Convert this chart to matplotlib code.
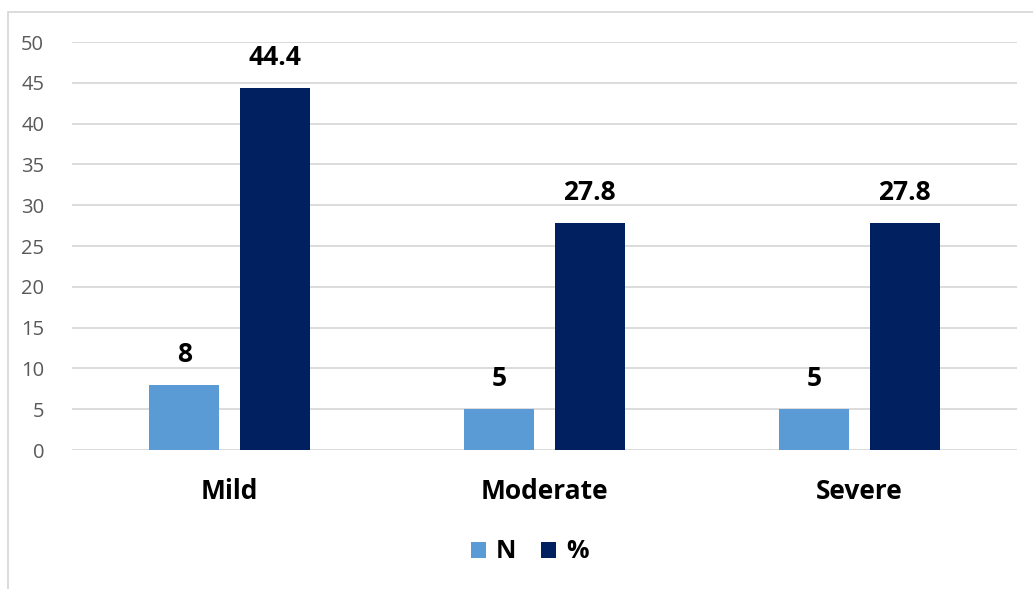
import matplotlib.pyplot as plt
import numpy as np
from matplotlib.patches import Rectangle

# severity groups with counts and percentages
categories = ["Mild", "Moderate", "Severe"]
n_values = [8, 5, 5]
pct_values = [44.4, 27.8, 27.8]

plt.rcParams['font.family'] = ['Open Sans', 'DejaVu Sans']

fig = plt.figure(figsize=(10.33, 5.89), dpi=100)
ax = fig.add_axes([72 / 1033, 1 - 450 / 589, 945 / 1033, 408 / 589])

x = np.arange(len(categories))
width = 0.222
offset = 0.143
b1 = ax.bar(x - offset, n_values, width, color="#5B9BD5", label="N", zorder=3)
b2 = ax.bar(x + offset, pct_values, width, color="#00205F", label="%", zorder=3)

for bars, vals in ((b1, n_values), (b2, pct_values)):
    for rect, v in zip(bars, vals):
        ax.text(rect.get_x() + rect.get_width() / 2, v + 2.1, f"{v:g}",
                ha="center", va="bottom", fontsize=19, fontweight="bold", color="black")

ax.set_xlim(-0.5, 2.5)
ax.set_ylim(0, 50)
ax.set_yticks(range(0, 51, 5))
ax.yaxis.grid(True, color="#D9D9D9", linewidth=1.3, zorder=0)
ax.set_xticks(x)
ax.set_xticklabels(categories, fontsize=19, fontweight="bold")
ax.tick_params(axis="x", length=0, pad=20)
ax.tick_params(axis="y", length=0, labelsize=14.5, labelcolor="#595959", pad=20)
for s in ax.spines.values():
    s.set_visible(False)

ax.legend(loc="center", bbox_to_anchor=(530 / 1033, 1 - 552 / 589),
          bbox_transform=fig.transFigure, ncol=2, frameon=False,
          prop={"size": 18, "weight": "bold"}, handlelength=0.6, handleheight=0.6,
          columnspacing=1.0, handletextpad=0.4)

# chart frame
fig.add_artist(Rectangle((8 / 1033, -0.05), 1.2, 1 - 12 / 589 + 0.05,
                         transform=fig.transFigure, fill=False,
                         edgecolor="#D9D9D9", linewidth=1.3))

fig.savefig("out.png", dpi=100)
